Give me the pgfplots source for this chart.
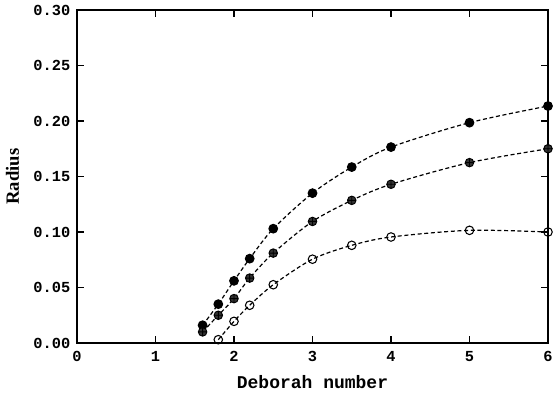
\documentclass[border=0pt]{standalone}
\usepackage{fontspec}
\setmainfont{Liberation Serif}
\newfontfamily\monobf{Liberation Mono}[BoldFont={Liberation Mono Bold}]
\usepackage{pgfplots}
\usetikzlibrary{calc}
\pgfplotsset{compat=1.18}

% Radius against Deborah number for three series
\pgfplotstableread{
x y
1.6 0.0160
1.8 0.0350
2.0 0.0560
2.2 0.0760
2.5 0.1030
3.0 0.1350
3.5 0.1585
4.0 0.1765
5.0 0.1985
6.0 0.2135
}\seriesA
\pgfplotstableread{
x y
1.6 0.0100
1.8 0.0250
2.0 0.0400
2.2 0.0585
2.5 0.0810
3.0 0.1095
3.5 0.1285
4.0 0.1430
5.0 0.1625
6.0 0.1750
}\seriesB
\pgfplotstableread{
x y
1.8 0.0030
2.0 0.0195
2.2 0.0340
2.5 0.0525
3.0 0.0755
3.5 0.0880
4.0 0.0955
5.0 0.1015
6.0 0.1000
}\seriesC

\begin{document}
\begin{tikzpicture}
\begin{axis}[
  scale only axis,
  width=353.25pt, height=249.75pt,
  xmin=0, xmax=6, ymin=0, ymax=0.30,
  xtick={0,1,2,3,4,5,6},
  ytick={0,0.05,0.10,0.15,0.20,0.25,0.30},
  tick align=inside,
  major tick length=5pt,
  minor tick num=0,
  axis line style={line width=0.9pt},
  every tick/.style={black, line width=0.8pt},
  /pgf/number format/assume math mode=true,
  yticklabel style={/pgf/number format/fixed, /pgf/number format/fixed zerofill, /pgf/number format/precision=2, font=\monobf\bfseries\fontsize{11.5}{12}\selectfont, xshift=-1.5pt},
  xticklabel style={font=\monobf\bfseries\fontsize{11.5}{12}\selectfont, yshift=-3pt},
  xlabel={Deborah number},
  ylabel={Radius},
  xlabel style={font=\monobf\bfseries\fontsize{13.5}{15}\selectfont, yshift=-3pt},
  ylabel style={font=\bfseries\fontsize{14}{16}\selectfont, yshift=4pt},
  every axis plot/.append style={black, line width=0.9pt, dash pattern=on 3pt off 2pt},
]
\addplot[smooth, mark=*, mark size=3.2pt, mark options={solid, fill=black}] table {\seriesA};
\addplot[smooth, mark=oplus*, mark size=3.2pt, mark options={solid, fill=black!80, line width=0.7pt}] table {\seriesB};
\addplot[smooth, mark=o, mark size=3.2pt, mark options={solid, fill=white, line width=0.8pt}] table {\seriesC};
\end{axis}
\pgfresetboundingbox
\path[use as bounding box] ($(current axis.south west)+(-57.75pt,-42.75pt)$) rectangle ($(current axis.north east)+(6pt,7.5pt)$);
\end{tikzpicture}
\end{document}
